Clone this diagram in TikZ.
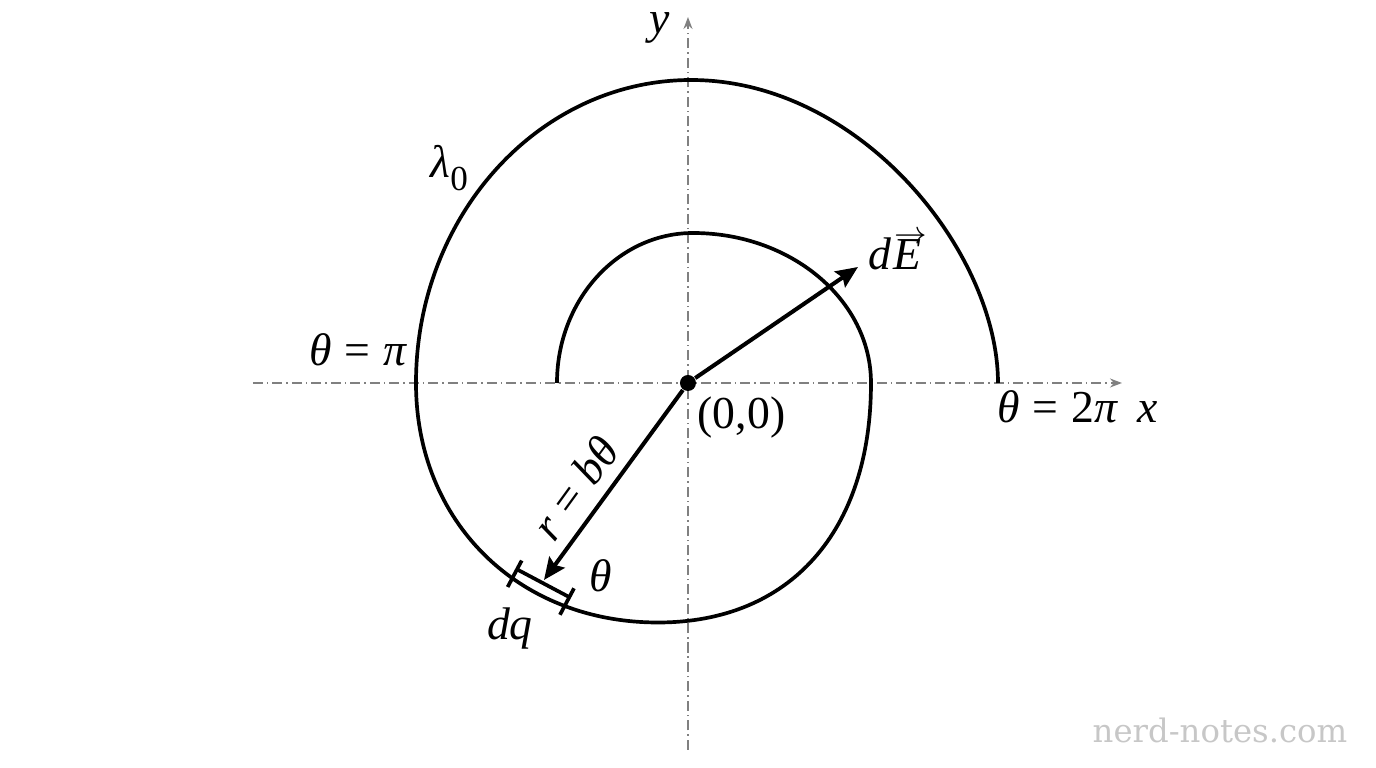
\documentclass[tikz,border=0pt]{standalone}
\usepackage{fontspec}
\setmainfont{Liberation Serif}
\newfontfamily\wmfont{DejaVu Serif}
\usetikzlibrary{arrows.meta,calc}
\definecolor{axisgray}{gray}{0.5}
\definecolor{wmgray}{gray}{0.78}
\newcommand{\eqsp}{\hspace{0.28em}=\hspace{0.28em}}
\newcommand{\vecE}{\makebox[0pt][l]{\raisebox{0.57em}{\hspace{0.04em}$\scriptstyle\rightarrow$}}\textit{E}}
\begin{document}
\begin{tikzpicture}[
  axis/.style={draw=axisgray, line width=0.45pt, dash pattern=on 0.10cm off 0.04cm on 0.015cm off 0.04cm, -{Stealth[length=0.12cm,width=0.09cm]}},
  curve/.style={line width=1.05pt},
  vec/.style={line width=1.15pt, -{Stealth[length=0.22cm,width=0.19cm,inset=0.035cm]}},
  lbl/.style={font=\fontsize{13}{15}\selectfont, inner sep=0pt},
]
\useasboundingbox (-6.88,-3.85) rectangle (6.88,3.83);
% axes
\coordinate (xl) at (-4.35,0);
\coordinate (xr) at (4.34,0);
\coordinate (yb) at (0,-3.67);
\coordinate (yt) at (0,3.66);
\draw[axis] (xl) -- (xr);
\draw[axis] (yb) -- (yt);
% spiral
\draw[curve] (-1.31,0) .. controls (-1.31,0.83) and (-0.70,1.50) .. (0.05,1.50)
  .. controls (1.03,1.50) and (1.83,0.83) .. (1.83,0)
  .. controls (1.83,-1.485) and (1.02,-2.395) .. (-0.30,-2.395)
  .. controls (-1.70,-2.395) and (-2.72,-1.389) .. (-2.72,0)
     coordinate[pos=0.40] (A) coordinate[pos=0.24] (B)
  .. controls (-2.72,1.673) and (-1.488,3.03) .. (0.03,3.03)
  .. controls (1.73,3.03) and (3.10,1.30) .. (3.10,0);
% dq element
\draw[curve] ($(A)!0.10cm!90:(B)$) -- ($(B)!0.10cm!-90:(A)$);
\draw[curve] ($(A)!0.10cm!-90:(B)$) -- ($(A)!0.20cm!90:(B)$);
\draw[curve] ($(B)!0.10cm!90:(A)$) -- ($(B)!0.20cm!-90:(A)$);
% origin and vectors
\node[circle, fill, inner sep=0pt, minimum size=0.16cm] (O) at (0,0) {};
\coordinate (Etip) at (1.70,1.16);
\coordinate (Rtip) at (-1.44,-1.97);
\draw[vec] (O) -- (Etip);
\draw[vec] (O) -- (Rtip);
% labels
\node[lbl, anchor=base] (ylab) at (-0.28,3.49) {\textit{y}};
\node[lbl, anchor=base west] (xlab) at (4.49,-0.40) {\textit{x}};
\node[lbl, anchor=base east] (tpi) at (-2.80,0.17) {\textit{θ}\eqsp\textit{π}};
\node[lbl, anchor=base west] (t2pi) at (3.09,-0.40) {\textit{θ}\eqsp2\textit{π}};
\node[lbl, anchor=base west] (org) at (0.09,-0.46) {(0,0)};
\node[lbl, anchor=base west] (dE) at (1.80,1.13) {\textit{d}\hspace{0.03em}\vecE};
\node[lbl, anchor=base west] (lam) at (-2.58,2.05) {\textit{λ}\raisebox{-0.28em}{\fontsize{10}{12}\selectfont 0}};
\node[lbl, rotate=54] (rlab) at (-1.13,-1.05) {\textit{r}\eqsp\textit{bθ}};
\node[lbl, anchor=base] (th) at (-0.87,-2.09) {\textit{θ}};
\node[lbl, anchor=base] (dq) at (-1.78,-2.57) {\textit{dq}};
% watermark
\node[font=\wmfont\fontsize{9.2}{11}\selectfont, text=wmgray, anchor=base west, inner sep=0pt] (wm) at (4.04,-3.60) {nerd-notes.com};
\end{tikzpicture}
\end{document}
